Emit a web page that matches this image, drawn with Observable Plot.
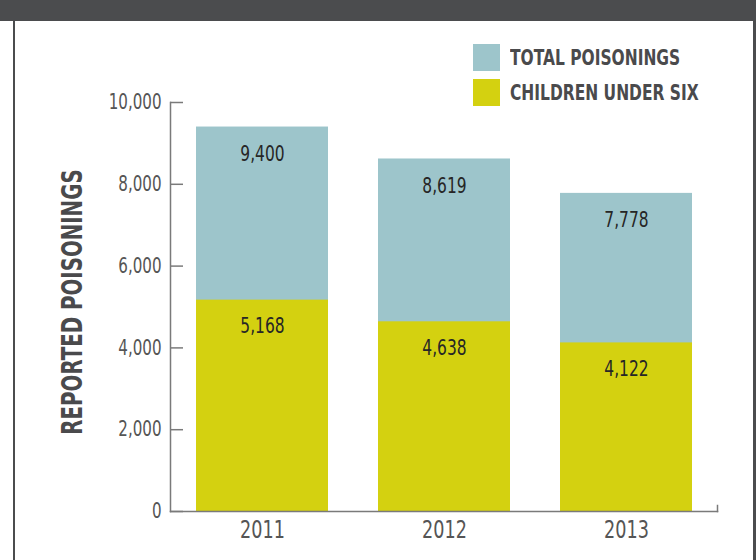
<!DOCTYPE html>
<html>
<head>
<meta charset="utf-8">
<script src="https://cdn.jsdelivr.net/npm/d3@7"></script>
<script src="https://cdn.jsdelivr.net/npm/@observablehq/plot@0.6"></script>
<style>
  html, body { margin: 0; padding: 0; background: #fff; }
  #wrap { position: relative; width: 756px; height: 560px; overflow: hidden; background: #fff; }
  .band { position: absolute; background: #4b4c4e; }
  #legend { position: absolute; left: 473px; top: 44px; font-family: "DejaVu Sans Condensed", "DejaVu Sans", sans-serif; font-weight: bold; font-size: 21.5px; color: #4a4a4c; }
  .item { display: flex; align-items: center; height: 27px; margin-bottom: 8px; white-space: nowrap; }
  .sw { width: 27px; height: 27px; margin-right: 10px; flex: none; }
  .item span { display: inline-block; transform: scaleX(0.8); transform-origin: left center; }
  #chart { position: absolute; left: 0; top: 0; }
</style>
</head>
<body>
<div id="wrap">
  <div class="band" style="left:0;top:0;width:756px;height:21px"></div>
  <div class="band" style="left:13px;top:0;width:2px;height:560px"></div>
  <div class="band" style="left:753px;top:0;width:3px;height:560px"></div>
  <div id="chart"></div>
  <div id="legend"></div>
</div>
<script>
const years = ["2011", "2012", "2013"];
const totalPoisonings = [9400, 8619, 7778];
const childrenUnderSix = [5168, 4638, 4122];
const yTicks = [0, 2000, 4000, 6000, 8000, 10000];
const seriesNames = ["TOTAL POISONINGS", "CHILDREN UNDER SIX"];
const seriesColors = ["#9dc5cb", "#d4d110"];
const axisTitle = "REPORTED POISONINGS";

const rows = years.map((y, i) => ({year: y, total: totalPoisonings[i], children: childrenUnderSix[i]}));
const fmt = d3.format(",");
const font = "'DejaVu Sans Condensed', 'DejaVu Sans', sans-serif";
const axisColor = "#7a7a7a";

const chart = Plot.plot({
  width: 756,
  height: 560,
  marginLeft: 170,
  marginRight: 39,
  marginTop: 102,
  marginBottom: 49,
  style: {fontFamily: font, background: "transparent", overflow: "visible"},
  x: {domain: years, paddingInner: 0.275, paddingOuter: 0.1375, label: null},
  y: {domain: [0, 10000], label: null},
  marks: [
    Plot.barY(rows, {x: "year", y1: 0, y2: "total", fill: seriesColors[0]}),
    Plot.barY(rows, {x: "year", y1: 0, y2: "children", fill: seriesColors[1]}),
    Plot.text(rows, {x: "year", y: "total", text: d => fmt(d.total), dy: 27, fontSize: 21.5, fill: "#262626", lineAnchor: "middle"}),
    Plot.text(rows, {x: "year", y: "children", text: d => fmt(d.children), dy: 26, fontSize: 21.5, fill: "#262626", lineAnchor: "middle"}),
    Plot.axisY({ticks: yTicks, tickFormat: fmt, tickSize: 0, tickPadding: 9, fontSize: 21, color: "#555", label: null}),
    Plot.tickY(yTicks, {y: d => d, insetRight: 547 - 13, stroke: axisColor, strokeWidth: 1.5}),
    Plot.frame({anchor: "left", stroke: axisColor, strokeWidth: 1.5}),
    Plot.frame({anchor: "bottom", stroke: axisColor, strokeWidth: 1.5}),
    Plot.frame({anchor: "right", insetTop: 403, stroke: axisColor, strokeWidth: 1.5}),
    Plot.axisX({tickSize: 0, tickPadding: 9, fontSize: 24.5, color: "#555", label: null}),
    Plot.text([axisTitle], {frameAnchor: "left", rotate: -90, dx: -97, dy: -5, textAnchor: "middle", lineAnchor: "middle", fontSize: 27.5, fontWeight: "bold", fill: "#4a4a4c"})
  ]
});
document.getElementById("chart").appendChild(chart);

// condense the text horizontally (the reference uses a condensed typeface)
const squeeze = 0.8;
chart.querySelectorAll("text").forEach(t => {
  const b = t.getBBox();
  const anchor = getComputedStyle(t).textAnchor;
  const px = anchor === "middle" ? b.x + b.width / 2 : anchor === "end" ? b.x + b.width : b.x;
  const prev = t.getAttribute("transform") || "";
  t.setAttribute("transform", `${prev} translate(${px},0) scale(${squeeze},1) translate(${-px},0)`);
});

const legend = document.getElementById("legend");
seriesNames.forEach((name, i) => {
  const item = document.createElement("div");
  item.className = "item";
  const sw = document.createElement("div");
  sw.className = "sw";
  sw.style.background = seriesColors[i];
  const label = document.createElement("span");
  label.textContent = name;
  item.appendChild(sw);
  item.appendChild(label);
  legend.appendChild(item);
});
</script>
</body>
</html>
